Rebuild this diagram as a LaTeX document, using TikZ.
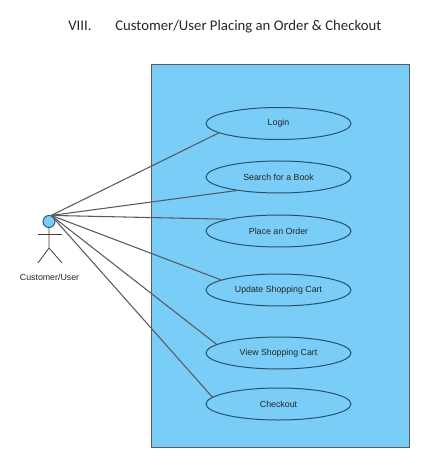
\documentclass[tikz,border=0pt]{standalone}
\usepackage{fontspec}
\usepackage{xcolor}
\setmainfont{Liberation Sans}
\newfontfamily\titlefont{Carlito}
\usetikzlibrary{shapes.geometric}
\definecolor{sysblue}{HTML}{79CDF6}
\definecolor{usecaseline}{HTML}{25536F}
\definecolor{linkgray}{HTML}{555B60}
\tikzset{
    usecase/.style={ellipse,draw=usecaseline,line width=0.75pt,fill=sysblue,text=black!85,inner sep=0pt,
        minimum width=108.75pt,minimum height=24pt,font=\fontsize{6.6}{8}\selectfont},
    link/.style={draw=linkgray,line width=0.8pt},
    limb/.style={draw=black!75,line width=0.6pt},
    heading/.style={inner sep=0pt,anchor=base west,text=black!85,font=\titlefont\fontsize{11.05}{13}\selectfont}
}

\begin{document}
\begin{tikzpicture}[x=0.75pt,y=-0.75pt]
        \useasboundingbox (0,0) rectangle (443,473);
        \node[heading] (num) at (68,30.5) {VIII.};
        \node[heading] (title) at (115,30.5) {Customer/User Placing an Order \& Checkout};
        \node[draw=linkgray,line width=0.7pt,fill=sysblue,minimum width=193.5pt,minimum height=287.25pt,inner sep=0pt] (system) at (280,255.5) {};
        \node[usecase] (login) at (278.5,123.5) {Login};
        \node[usecase] (search) at (278.5,177) {Search for a Book};
        \node[usecase] (order) at (278.5,231) {Place an Order};
        \node[usecase] (update) at (278.5,290) {Update Shopping Cart};
        \node[usecase] (view) at (278.5,353) {View Shopping Cart};
        \node[usecase] (checkout) at (278.5,404) {Checkout};
        \node[circle,draw=usecaseline,line width=0.7pt,fill=sysblue,minimum size=9pt,inner sep=0pt] (head) at (49,221.5) {};
        \coordinate (handl) at (38,234);
        \coordinate (handr) at (62,234);
        \coordinate (hips) at (49,248);
        \coordinate (footl) at (38,263);
        \coordinate (footr) at (62,263);
        \node[text=black!85,inner sep=0pt,font=\fontsize{6.6}{8}\selectfont] (user) at (49.5,277) {Customer/User};
        \draw[limb] (head) -- (hips) -- (footl);
        \draw[limb] (hips) -- (footr);
        \draw[limb] (handl) -- (handr);
        \draw[link] (head.70) -- (login.189);
        \draw[link] (head.70) -- (search.198);
        \draw[link] (head.70) -- (order.167);
        \draw[link] (head.70) -- (update.170);
        \draw[link] (head.70) -- (view.172);
        \draw[link] (head.70) -- (checkout.174);
    \end{tikzpicture}
\end{document}
